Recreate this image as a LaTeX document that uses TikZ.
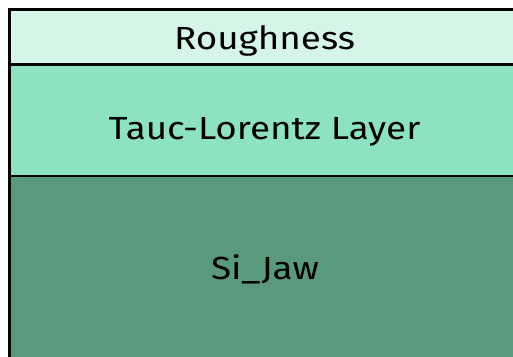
\documentclass[tikz,border=0pt]{standalone}
\usepackage{fontspec}
\setmainfont{Fira Sans}[FakeStretch=1.15]
\usetikzlibrary{positioning}

\definecolor{roughcol}{HTML}{D4F5E8}
\definecolor{taucol}{HTML}{8DE3C0}
\definecolor{sicol}{HTML}{5A9A7C}

\begin{document}
\begin{tikzpicture}[x=1pt,y=-1pt,
    layertext/.style={anchor=base,inner sep=0pt,text=black,
      font=\fontsize{32}{34}\selectfont},
    edge/.style={line width=2.6pt,black}]
  \def\W{513}\def\H{356}
  \def\xl{9.5}\def\yt{9.5}\def\ya{64.5}\def\yb{176}
  \useasboundingbox (0,0) rectangle (\W,\H);
  % layers
  \fill[roughcol] (\xl,\yt) rectangle (\W+5,\ya);
  \fill[taucol] (\xl,\ya) rectangle (\W+5,\yb);
  \fill[sicol] (\xl,\yb) rectangle (\W+5,\H+5);
  % borders
  \draw[edge] (\xl,\H+5) -- (\xl,\yt) -- (\W+5,\yt);
  \draw[edge] (\xl,\ya) -- (\W+5,\ya);
  \draw[edge] (\xl,\yb) -- (\W+5,\yb);
  % labels
  \node[layertext] (rough) at (264.5,49) {Roughness};
  \node[layertext] (tauc) at (264.5,139) {Tauc-Lorentz Layer};
  \node[layertext] (si) at (265,279) {Si\_Jaw};
\end{tikzpicture}
\end{document}
